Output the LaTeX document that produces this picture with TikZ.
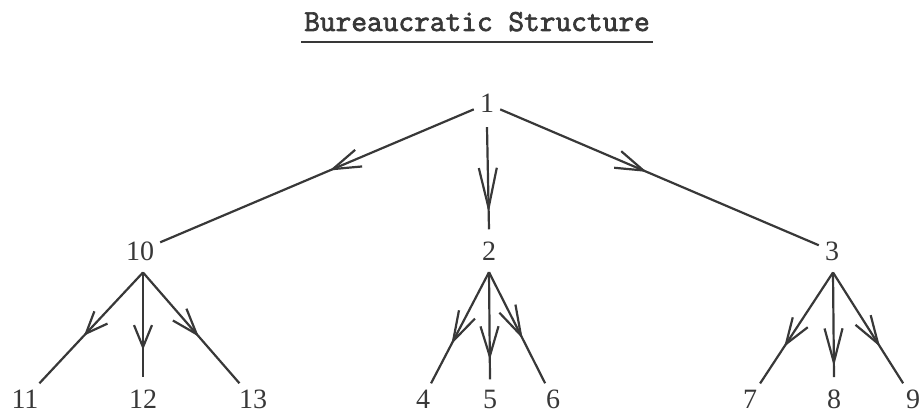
\documentclass[tikz,border=0pt]{standalone}
\usepackage{fontspec}
\setmainfont{Liberation Serif}
\usetikzlibrary{arrows.meta,decorations.markings}
\definecolor{ink}{HTML}{383838}
\newcommand{\heavytext}[1]{\special{pdf:literal direct 2 Tr 0.7 w}#1\special{pdf:literal direct 0 Tr}}
\tikzset{
  num/.style={anchor=base,inner sep=6pt,text=ink,font=\fontsize{28}{30}\selectfont},
  link/.style={draw=ink,line width=2.2pt},
  midarrow/.style 2 args={postaction={decorate},decoration={markings,
     mark=at position #1 with {\arrow[ink,line width=2.2pt]{Straight Barb[length=#2,width=18pt]}}}},
  midarrow/.default={0.5}{26pt}
}
\begin{document}
\begin{tikzpicture}[x=1pt,y=-1pt]
\useasboundingbox (0,0) rectangle (924,417);
% title
\node[anchor=base,inner sep=0pt,text=ink,font=\fontsize{30.5}{34}\selectfont\ttfamily] (title) at (477,31) {\heavytext{Bureaucratic Structure}};
\draw[ink,line width=2.4pt] ([xshift=-3pt,yshift=-11pt]title.base west) -- ([xshift=3pt,yshift=-11pt]title.base east);
% nodes
\node[num] (n1) at (487,113) {1};
\node[num] (n10) at (140,260) {10};
\node[num] (n2) at (489,260) {2};
\node[num] (n3) at (832,260) {3};
\node[num] (n11) at (25,408) {11};
\node[num] (n12) at (143,408) {12};
\node[num] (n13) at (253,408) {13};
\node[num] (n4) at (423,408) {4};
\node[num] (n5) at (490,408) {5};
\node[num] (n6) at (553,408) {6};
\node[num] (n7) at (750,408) {7};
\node[num] (n8) at (834,408) {8};
\node[num] (n9) at (913,408) {9};
% top level
\draw[link,midarrow={0.46}{28pt}] (n1) -- (n10);
\draw[link,midarrow={0.84}{40pt}] ([yshift=-8pt]n1.south) -- ([yshift=6pt]n2.north);
\draw[link,midarrow={0.46}{28pt}] (n1) -- (n3);
% under 10
\draw[link,midarrow={0.57}{22pt}] ([xshift=3pt,yshift=-6pt]n10.south) -- (n11);
\draw[link,midarrow={0.74}{22pt}] ([xshift=3pt,yshift=-6pt]n10.south) -- ([yshift=6pt]n12.north);
\draw[link,midarrow={0.58}{26pt}] ([xshift=3pt,yshift=-6pt]n10.south) -- (n13);
% under 2
\draw[link,midarrow={0.65}{30pt}] ([yshift=-6pt]n2.south) -- (n4);
\draw[link,midarrow={0.82}{30pt}] ([yshift=-6pt]n2.south) -- ([yshift=4pt]n5.north);
\draw[link,midarrow={0.6}{30pt}] ([yshift=-6pt]n2.south) -- (n6);
% under 3
\draw[link,midarrow={0.67}{26pt}] ([xshift=1pt,yshift=-6pt]n3.south) -- (n7);
\draw[link,midarrow={0.9}{34pt}] ([xshift=1pt,yshift=-6pt]n3.south) -- ([yshift=6pt]n8.north);
\draw[link,midarrow={0.67}{28pt}] ([xshift=1pt,yshift=-6pt]n3.south) -- (n9);
\end{tikzpicture}
\end{document}
